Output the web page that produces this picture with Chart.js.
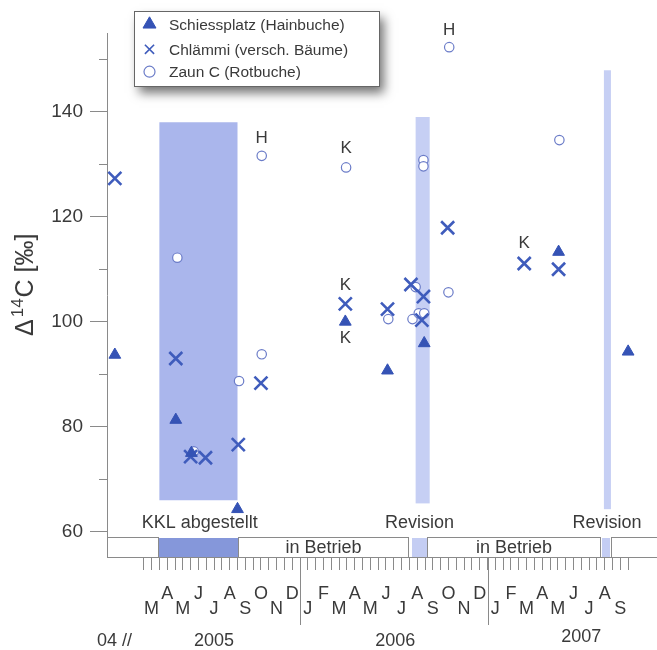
<!DOCTYPE html>
<html><head><meta charset="utf-8">
<script src="https://cdn.jsdelivr.net/npm/chart.js@4/dist/chart.umd.min.js"></script>
<style>html,body{margin:0;padding:0;background:#fff}#wrap{width:657px;height:650px;position:relative}</style>
</head><body><div id="wrap"><canvas id="c" width="657" height="650"></canvas></div>
<script>
// x values are months counted from 1 Jan 2005 (12 = Jan 2006, 24 = Jan 2007)
const monthLetters = ['J','F','M','A','M','J','J','A','S','O','N','D'];
const yTickValues = [60,70,80,90,100,110,120,130,140,150];
const yLabelValues = [60,80,100,120,140];

const schiessX = [0.15, 4.05, 5.05, 8.0, 14.9, 17.6, 19.95, 28.55, 33.0];
const schiessY = [93.7, 81.3, 75.0, 64.3, 100.0, 90.7, 95.9, 113.3, 94.3];
const chlaemmiX = [0.15, 4.05, 5.0, 5.95, 8.05, 9.5, 14.9, 17.6, 19.1, 19.9, 19.8, 21.45, 26.35, 28.55];
const chlaemmiY = [127.3, 93.0, 74.3, 74.1, 76.6, 88.3, 103.4, 102.4, 107.1, 104.8, 100.3, 117.9, 111.1, 110.0];
const zaunX = [4.15, 5.2, 8.1, 9.55, 9.55, 14.95, 17.65, 19.4, 19.2, 19.6, 19.95, 19.9, 19.9, 21.5, 21.55, 28.6];
const zaunY = [112.2, 75.3, 88.7, 93.8, 131.6, 129.4, 100.5, 106.6, 100.5, 101.6, 101.6, 130.8, 129.6, 105.6, 152.3, 134.6];

const noteText = ['H','K','K','K','K','H'];
const noteX = [9.55, 14.95, 14.9, 14.9, 26.35, 21.55];
const noteY = [134.9, 133.0, 107.0, 96.9, 115.0, 155.6];

// shaded periods: shutdown 2005, revisions 2006 / 2007
const bandStart = [3.0, 19.4, 31.45];
const bandEnd = [8.0, 20.3, 31.9];
const bandLow = [66, 65.4, 64.3];
const bandHigh = [138, 139, 147.9];

// operating status bar
const statusStart = [-0.35, 3.0, 8.0, 19.15, 20.15, 31.3, 31.9];
const statusEnd = [3.0, 8.0, 19.0, 20.1, 31.25, 31.85, 36];
const statusKind = ['box','off','box','rev','box','rev','box'];
const statusText = ['', '', 'in Betrieb', '', 'in Betrieb', '', ''];

const periodLabels = ['KKL abgestellt','Revision','Revision'];
const periodLabelX = [5.58, 19.65, 31.65];

const yearLabels = ['04 //','2005','2006','2007'];
const yearLabelX = [0.13, 6.5, 18.1, 30.0];
const yearLines = [12, 24];

const FF = "'Liberation Sans', Arial, sans-serif";
Chart.defaults.font.family = FF;
const TXT = '#3a3a3a';
const AX = '#8a8a8a';
const BLUE = '#3553b5';
const XBLUE = '#3f5cbc';
const CBLUE = '#6b7cc8';

function pts(xs, ys){ return xs.map((x,i)=>({x:x, y:ys[i]})); }

const decor = {
  id:'decor',
  beforeDatasetsDraw(chart){
    const {ctx, scales:{x,y}, chartArea:a} = chart;
    ctx.save();
    bandStart.forEach((s,i)=>{
      const x0=x.getPixelForValue(s), x1=x.getPixelForValue(bandEnd[i]);
      const y0=y.getPixelForValue(bandHigh[i]), y1=y.getPixelForValue(bandLow[i]);
      ctx.fillStyle = i===0 ? '#aab6ec' : '#c6cff4';
      ctx.fillRect(x0,y0,x1-x0,y1-y0);
    });
    // status bar
    const top = a.bottom - 20, bot = a.bottom;
    statusStart.forEach((s,i)=>{
      const x0=Math.round(x.getPixelForValue(s)), x1=Math.round(x.getPixelForValue(statusEnd[i]));
      if (statusKind[i]==='box'){
        ctx.fillStyle='#fff'; ctx.fillRect(x0,top,x1-x0,bot-top);
        ctx.strokeStyle=AX; ctx.lineWidth=1; ctx.strokeRect(x0+0.5,top+0.5,x1-x0-1,bot-top);
      } else {
        ctx.fillStyle = statusKind[i]==='off' ? '#8597da' : '#c4cdf3';
        ctx.fillRect(x0,top+1,x1-x0,bot-top-1);
      }
      if (statusText[i]){
        ctx.fillStyle=TXT; ctx.font='18px '+FF; ctx.textAlign='center'; ctx.textBaseline='middle';
        ctx.fillText(statusText[i], (x0+x1)/2, (top+bot)/2+1);
      }
    });
    ctx.strokeStyle=AX; ctx.lineWidth=1;
    ctx.beginPath(); ctx.moveTo(a.left, bot+0.5); ctx.lineTo(chart.width, bot+0.5); ctx.stroke();
    // period labels
    ctx.fillStyle=TXT; ctx.font='18px '+FF; ctx.textAlign='center'; ctx.textBaseline='middle';
    periodLabels.forEach((t,i)=>ctx.fillText(t, x.getPixelForValue(periodLabelX[i]), top-14));
    ctx.restore();
  },
  afterDraw(chart){
    const {ctx, scales:{x,y}, chartArea:a} = chart;
    ctx.save();
    // minor y ticks
    ctx.strokeStyle=AX; ctx.lineWidth=1;
    yTickValues.filter(v=>!yLabelValues.includes(v)).forEach(v=>{
      const py=Math.round(y.getPixelForValue(v))+0.5;
      ctx.beginPath(); ctx.moveTo(a.left-8,py); ctx.lineTo(a.left,py); ctx.stroke();
    });
    // year lines
    yearLines.forEach(v=>{
      const px=Math.round(x.getPixelForValue(v))+0.5;
      ctx.beginPath(); ctx.moveTo(px,a.bottom); ctx.lineTo(px,a.bottom+68); ctx.stroke();
    });
    // year labels
    ctx.fillStyle=TXT; ctx.font='18px '+FF; ctx.textAlign='center'; ctx.textBaseline='middle';
    yearLabels.forEach((t,i)=>ctx.fillText(t, x.getPixelForValue(yearLabelX[i]), i===3 ? 637 : 641));
    // annotations
    ctx.font='17px '+FF;
    noteText.forEach((t,i)=>ctx.fillText(t, x.getPixelForValue(noteX[i]), y.getPixelForValue(noteY[i])));
    // y title
    ctx.save();
    ctx.translate(33, 336); ctx.rotate(-Math.PI/2);
    ctx.textAlign='left'; ctx.textBaseline='alphabetic';
    ctx.font='25px '+FF; ctx.fillText('Δ',0,0); let w=ctx.measureText('Δ').width+2;
    ctx.font='17px '+FF; ctx.fillText('14', w, -10); w+=ctx.measureText('14').width+1;
    ctx.font='25px '+FF; ctx.fillText('C [‰]', w, 0);
    ctx.restore();
    // legend
    ctx.save();
    ctx.shadowColor='rgba(0,0,0,0.55)'; ctx.shadowBlur=10; ctx.shadowOffsetX=5; ctx.shadowOffsetY=7;
    ctx.fillStyle='#fff'; ctx.fillRect(134,11,245,75);
    ctx.restore();
    ctx.strokeStyle='#666'; ctx.lineWidth=1; ctx.strokeRect(134.5,11.5,245,75);
    const rows=[24.3,49.3,71.7];
    chart.data.datasets.forEach((d,i)=>{
      ctx.save();
      ctx.fillStyle = d.backgroundColor; ctx.strokeStyle = d.borderColor;
      const opts = i===0 ? {pointStyle:'triangle', radius:7.5, borderWidth:1, rotation:0}
                 : i===1 ? {pointStyle:'crossRot', radius:6.5, borderWidth:1.6, rotation:0}
                 : {pointStyle:'circle', radius:5.5, borderWidth:1.2, rotation:0};
      ctx.lineWidth = opts.borderWidth;
      Chart.helpers.drawPoint(ctx, opts, 149.5, rows[i]);
      ctx.restore();
      ctx.fillStyle=TXT; ctx.font='15.5px '+FF; ctx.textAlign='left'; ctx.textBaseline='middle';
      ctx.fillText(d.label, 169, rows[i]+1);
    });
    ctx.restore();
  }
};

new Chart(document.getElementById('c'), {
  type:'scatter',
  data:{datasets:[
    {label:'Schiessplatz (Hainbuche)', data:pts(schiessX,schiessY), pointStyle:'triangle', pointRadius:6.8, backgroundColor:BLUE, borderColor:BLUE, borderWidth:1},
    {label:'Chlämmi (versch. Bäume)', data:pts(chlaemmiX,chlaemmiY), pointStyle:'crossRot', pointRadius:9.2, backgroundColor:XBLUE, borderColor:XBLUE, borderWidth:2.6},
    {label:'Zaun C (Rotbuche)', data:pts(zaunX,zaunY), pointStyle:'circle', pointRadius:4.7, backgroundColor:'#ffffff', borderColor:CBLUE, borderWidth:1.2}
  ]},
  options:{
    responsive:false, animation:false, devicePixelRatio:1, events:[],
    layout:{autoPadding:false, padding:{left:0, top:33, right:1, bottom:0}},
    plugins:{legend:{display:false}, tooltip:{enabled:false}, title:{display:false}},
    scales:{
      x:{type:'linear', min:-0.352, max:34.784,
        afterFit(s){ s.height=93; s.paddingLeft=0; s.paddingRight=0; },
        afterBuildTicks(s){ const t=[]; for(let v=2; v<=33.001; v+=0.5) t.push({value:v}); s.ticks=t; },
        grid:{drawOnChartArea:false, drawTicks:true, tickLength:13, color:AX},
        border:{display:false},
        ticks:{autoSkip:false, maxRotation:0, minRotation:0, padding:16, color:TXT,
          font:{size:18, lineHeight:0.84},
          callback(v){
            if (Math.abs(v%1-0.5)>0.01) return '';
            const mi = Math.floor(v)%12; const L = monthLetters[mi];
            return (mi%2===1) ? [L] : ['', L];
          }}
      },
      y:{min:55.19, max:155,
        afterFit(s){ s.width=107; s.paddingTop=0; s.paddingBottom=0; },
        afterBuildTicks(s){ s.ticks=yTickValues.map(v=>({value:v})); },
        grid:{drawOnChartArea:false, tickLength:17, color(c){ return (c.tick && yLabelValues.includes(c.tick.value)) ? AX : 'rgba(0,0,0,0)'; }},
        border:{display:true, color:AX, width:1},
        ticks:{padding:7, color:TXT, font:{size:19}, callback(v){ return yLabelValues.includes(v) ? String(v) : ''; }}
      }
    }
  },
  plugins:[decor]
});
</script>
</body></html>
